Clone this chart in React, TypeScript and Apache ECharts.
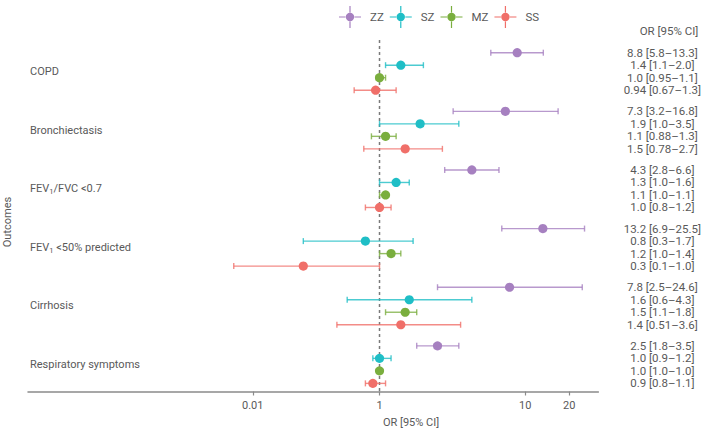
import React, { useEffect, useRef } from "react";
import * as echarts from "echarts";

const outcomes = ["COPD", "Bronchiectasis", "FEV1/FVC <0.7", "FEV1 <50% predicted", "Cirrhosis", "Respiratory symptoms"];
const genotypes = ["ZZ", "SZ", "MZ", "SS"];
const colors = ["#a680c0", "#1fbec6", "#7aae3e", "#f06f69"];

const zzOR = ["8.8", "7.3", "4.3", "13.2", "7.8", "2.5"];
const zzLow = ["5.8", "3.2", "2.8", "6.9", "2.5", "1.8"];
const zzHigh = ["13.3", "16.8", "6.6", "25.5", "24.6", "3.5"];
const szOR = ["1.4", "1.9", "1.3", "0.8", "1.6", "1.0"];
const szLow = ["1.1", "1.0", "1.0", "0.3", "0.6", "0.9"];
const szHigh = ["2.0", "3.5", "1.6", "1.7", "4.3", "1.2"];
const mzOR = ["1.0", "1.1", "1.1", "1.2", "1.5", "1.0"];
const mzLow = ["0.95", "0.88", "1.0", "1.0", "1.1", "1.0"];
const mzHigh = ["1.1", "1.3", "1.1", "1.4", "1.8", "1.0"];
const ssOR = ["0.94", "1.5", "1.0", "0.3", "1.4", "0.9"];
const ssLow = ["0.67", "0.78", "0.8", "0.1", "0.51", "0.8"];
const ssHigh = ["1.3", "2.7", "1.2", "1.0", "3.6", "1.1"];

// tick positions (OR scale) and the labels printed at them in the original
const xTickValues = [0.135, 1, 10, 20];
const xTickLabels = ["0.01", "1", "10", "20"];

const GROUP_STEP = 4.69;
const TXT = "#595959";
const FONT = "Roboto";

const seriesSets = [
  [zzOR, zzLow, zzHigh],
  [szOR, szLow, szHigh],
  [mzOR, mzLow, mzHigh],
  [ssOR, ssLow, ssHigh],
];

const rowPos = (g: number, r: number) => g * GROUP_STEP + r;
const lg = (v: number) => Math.log10(v);

function nearestIndex(arr: number[], v: number) {
  let best = 0;
  let bd = Infinity;
  arr.forEach((a, i) => {
    const d = Math.abs(a - v);
    if (d < bd) {
      bd = d;
      best = i;
    }
  });
  return best;
}

const LEGEND_ICON =
  "path://M0,10.4H6.5V11.6H0Z M15.5,10.4H22V11.6H15.5Z M10.4,0H11.6V6.5H10.4Z M10.4,15.5H11.6V22H10.4Z M6.8,11A4.2,4.2 0 1 1 15.2,11A4.2,4.2 0 1 1 6.8,11Z";

export default function App() {
  const ref = useRef<HTMLDivElement>(null);
  useEffect(() => {
    if (!ref.current) return;
    const chart = echarts.init(ref.current, undefined, { renderer: "svg" });

    const groupCenters = outcomes.map((_, g) => rowPos(g, 1.5));
    const rowPositions: number[] = [];
    const rowLabels: string[] = [];
    outcomes.forEach((_, g) => {
      seriesSets.forEach(([or, lo, hi], r) => {
        rowPositions.push(rowPos(g, r));
        rowLabels.push(`${or[g]} [${lo[g]}–${hi[g]}]`);
      });
    });

    const xTickLogs = xTickValues.map(lg);

    const labelRich = {
      t: { fontFamily: FONT, fontSize: 11, color: TXT },
      s: { fontFamily: FONT, fontSize: 7.5, color: TXT, padding: [6, 0, 0, 0] },
    };
    const fmtOutcome = (name: string) => {
      if (name.startsWith("FEV1")) return `{t|FEV}{s|1}{t|${name.slice(4)}}`;
      return `{t|${name}}`;
    };

    const yMin = -1.016;
    const yMax = 27.1;
    const PX_PER_DECADE = 147.2;
    const ONE_X = 383;
    const xMin = (28 - ONE_X) / PX_PER_DECADE;
    const xMax = xMin + 576 / PX_PER_DECADE;

    const customSeries = genotypes.map((name, k) => {
      const [or, lo, hi] = seriesSets[k];
      return {
        type: "custom",
        name,
        color: colors[k],
        clip: false,
        encode: { x: [0, 1, 2], y: 3 },
        data: outcomes.map((_, g) => [lg(Number(lo[g])), lg(Number(hi[g])), lg(Number(or[g])), rowPos(g, k)]),
        renderItem: (params: any, api: any) => {
          const p0 = api.coord([api.value(0), api.value(3)]);
          const p1 = api.coord([api.value(1), api.value(3)]);
          const pc = api.coord([api.value(2), api.value(3)]);
          const c = api.visual("color");
          const cap = 3;
          return {
            type: "group",
            children: [
              { type: "line", shape: { x1: p0[0], y1: p0[1], x2: p1[0], y2: p1[1] }, style: { stroke: c, lineWidth: 1.4, opacity: 0.8 } },
              { type: "line", shape: { x1: p0[0], y1: p0[1] - cap, x2: p0[0], y2: p0[1] + cap }, style: { stroke: c, lineWidth: 1.4, opacity: 0.8 } },
              { type: "line", shape: { x1: p1[0], y1: p1[1] - cap, x2: p1[0], y2: p1[1] + cap }, style: { stroke: c, lineWidth: 1.4, opacity: 0.8 } },
              { type: "circle", shape: { cx: pc[0], cy: pc[1], r: 4.6 }, style: { fill: c } },
            ],
          };
        },
        z: 3,
      };
    });

    const option: any = {
      animation: false,
      textStyle: { fontFamily: FONT },
      legend: {
        data: genotypes,
        top: 1,
        left: 334,
        itemWidth: 22,
        itemHeight: 22,
        itemGap: 6,
        icon: LEGEND_ICON,
        textStyle: { fontFamily: FONT, fontSize: 11.5, color: TXT, padding: [0, 0, 0, 4] },
      },
      grid: { left: 28, right: 100, top: 40, bottom: 42.5 },
      xAxis: {
        type: "value",
        position: "bottom",
        min: xMin,
        max: xMax,
        axisLine: { show: true, onZero: false, lineStyle: { color: "#8a8a8a", width: 1.5 } },
        axisTick: { show: true, customValues: xTickLogs, length: 4, lineStyle: { color: "#8a8a8a", width: 1.2 } },
        axisLabel: {
          customValues: xTickLogs,
          fontFamily: FONT,
          fontSize: 11,
          color: TXT,
          margin: 8,
          formatter: (v: number) => xTickLabels[nearestIndex(xTickLogs, v)],
        },
        splitLine: { show: false },
      },
      yAxis: [
        {
          type: "value",
          min: yMin,
          max: yMax,
          inverse: true,
          axisLine: { show: false },
          axisTick: { show: false },
          splitLine: { show: false },
          axisLabel: {
            inside: true,
            margin: 2,
            align: "left",
            customValues: groupCenters,
            formatter: (v: number) => fmtOutcome(outcomes[nearestIndex(groupCenters, v)]),
            rich: labelRich,
          },
        },
        {
          type: "value",
          position: "right",
          min: yMin,
          max: yMax,
          inverse: true,
          axisLine: { show: false },
          axisTick: { show: false },
          splitLine: { show: false },
          axisLabel: {
            margin: 64,
            align: "center",
            fontFamily: FONT,
            fontSize: 11.5,
            color: TXT,
            customValues: rowPositions,
            formatter: (v: number) => rowLabels[nearestIndex(rowPositions, v)],
          },
        },
      ],
      graphic: [
        { type: "text", x: 669, y: 31, style: { text: "OR [95% CI]", fontFamily: FONT, fontSize: 11.5, fill: TXT, textAlign: "center", textVerticalAlign: "middle" } },
        { type: "text", x: 411, y: 422, style: { text: "OR [95% CI]", fontFamily: FONT, fontSize: 11, fill: TXT, textAlign: "center", textVerticalAlign: "middle" } },
        { type: "text", x: 7, y: 222, rotation: Math.PI / 2, style: { text: "Outcomes", fontFamily: FONT, fontSize: 11, fill: TXT, textAlign: "center", textVerticalAlign: "middle" } },
      ],
      series: [
        {
          type: "line",
          name: "ref",
          data: [[0, yMin], [0, yMax]],
          symbol: "none",
          silent: true,
          lineStyle: { color: "#7a7a7a", width: 1.5, type: [3, 3] },
          z: 1,
        },
        ...customSeries,
      ],
    };
    chart.setOption(option);
    return () => chart.dispose();
  }, []);
  return <div ref={ref} style={{ position: "absolute", left: 0, top: 0, width: 704, height: 434 }} />;
}
